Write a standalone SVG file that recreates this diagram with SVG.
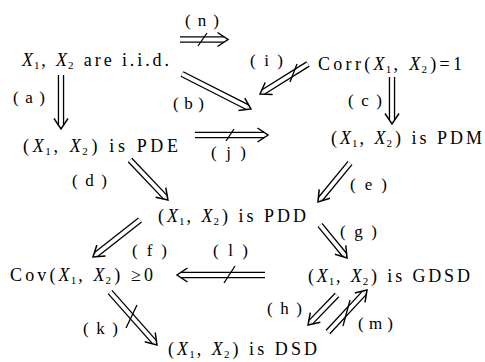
<svg xmlns="http://www.w3.org/2000/svg" width="485" height="362" viewBox="0 0 485 362">
<style>
.t{font-family:"Liberation Serif","Times New Roman",serif;font-size:18px;fill:#000}
.l{font-family:"Liberation Serif","Times New Roman",serif;font-size:17px;fill:#000}
.i{font-style:italic}
.s{font-size:11px}
.o{stroke:#000;stroke-width:6.4;fill:none}
.w{stroke:#fff;stroke-width:3.8;fill:none;marker-end:url(#head)}
.x{stroke:#000;stroke-width:1.3}
</style>
<defs>
<marker id="head" markerUnits="userSpaceOnUse" markerWidth="24" markerHeight="24" viewBox="-12 -12 24 24" refX="0" refY="0" orient="auto" overflow="visible">
<path d="M-6.5,-7 L4,0 L-6.5,7" fill="none" stroke="#000" stroke-width="1.5" stroke-linejoin="miter"/>
</marker>
</defs>
<rect width="485" height="362" fill="#fff"/>

<g id="iid"><text class="t" x="22" y="66" textLength="147" lengthAdjust="spacing"><tspan class="i">X</tspan><tspan class="s" dx="-2" dy="3">1</tspan><tspan dx="-1" dy="-3">, </tspan><tspan class="i">X</tspan><tspan class="s" dx="-2" dy="3">2</tspan><tspan dy="-3"> are i.i.d.</tspan></text></g>
<g id="corr"><text class="t" x="318" y="70" textLength="144" lengthAdjust="spacing">Corr(<tspan class="i">X</tspan><tspan class="s" dx="-2" dy="3">1</tspan><tspan dx="-1" dy="-3">, </tspan><tspan class="i">X</tspan><tspan class="s" dx="-2" dy="3">2</tspan><tspan dy="-3">)=1</tspan></text></g>
<g id="pde"><text class="t" x="23" y="152" textLength="155" lengthAdjust="spacing">(<tspan class="i">X</tspan><tspan class="s" dx="-2" dy="3">1</tspan><tspan dx="-1" dy="-3">, </tspan><tspan class="i">X</tspan><tspan class="s" dx="-2" dy="3">2</tspan><tspan dy="-3">) is PDE</tspan></text></g>
<g id="pdm"><text class="t" x="331" y="144" textLength="151" lengthAdjust="spacing">(<tspan class="i">X</tspan><tspan class="s" dx="-2" dy="3">1</tspan><tspan dx="-1" dy="-3">, </tspan><tspan class="i">X</tspan><tspan class="s" dx="-2" dy="3">2</tspan><tspan dy="-3">) is PDM</tspan></text></g>
<g id="pdd"><text class="t" x="158" y="222" textLength="148" lengthAdjust="spacing">(<tspan class="i">X</tspan><tspan class="s" dx="-2" dy="3">1</tspan><tspan dx="-1" dy="-3">, </tspan><tspan class="i">X</tspan><tspan class="s" dx="-2" dy="3">2</tspan><tspan dy="-3">) is PDD</tspan></text></g>
<g id="cov"><text class="t" x="10" y="281" textLength="143" lengthAdjust="spacing">Cov(<tspan class="i">X</tspan><tspan class="s" dx="-2" dy="3">1</tspan><tspan dx="-1" dy="-3">, </tspan><tspan class="i">X</tspan><tspan class="s" dx="-2" dy="3">2</tspan><tspan dy="-3">) ≥0</tspan></text></g>
<g id="gdsd"><text class="t" x="308" y="282" textLength="162" lengthAdjust="spacing">(<tspan class="i">X</tspan><tspan class="s" dx="-2" dy="3">1</tspan><tspan dx="-1" dy="-3">, </tspan><tspan class="i">X</tspan><tspan class="s" dx="-2" dy="3">2</tspan><tspan dy="-3">) is GDSD</tspan></text></g>
<g id="dsd"><text class="t" x="168" y="355" textLength="149" lengthAdjust="spacing">(<tspan class="i">X</tspan><tspan class="s" dx="-2" dy="3">1</tspan><tspan dx="-1" dy="-3">, </tspan><tspan class="i">X</tspan><tspan class="s" dx="-2" dy="3">2</tspan><tspan dy="-3">) is DSD</tspan></text></g>

<g id="connectors">
<g id="arrow-n"><path class="o" d="M180,39.5 L224,39.5"/><path class="w" d="M180,39.5 L224,39.5"/><line class="x" x1="198" y1="46" x2="207" y2="33"/><text class="l" x="185" y="26" textLength="34" lengthAdjust="spacing">(n)</text></g>
<g id="arrow-a"><path class="o" d="M61,75 L61,125"/><path class="w" d="M61,75 L61,125"/><text class="l" x="13" y="103" textLength="32" lengthAdjust="spacing">(a)</text></g>
<g id="arrow-b"><path class="o" d="M182,74 L247.4,107.2"/><path class="w" d="M182,74 L247.4,107.2"/><text class="l" x="173" y="109" textLength="31" lengthAdjust="spacing">(b)</text></g>
<g id="arrow-i"><path class="o" d="M308,64 L263.4,91.9"/><path class="w" d="M308,64 L263.4,91.9"/><line class="x" x1="290" y1="82" x2="297" y2="64"/><text class="l" x="250" y="66" textLength="33" lengthAdjust="spacing">(i)</text></g>
<g id="arrow-c"><path class="o" d="M392,77 L392,120"/><path class="w" d="M392,77 L392,120"/><text class="l" x="348" y="106" textLength="34" lengthAdjust="spacing">(c)</text></g>
<g id="arrow-j"><path class="o" d="M195,135 L264,135"/><path class="w" d="M195,135 L264,135"/><line class="x" x1="226" y1="141" x2="234" y2="129"/><text class="l" x="211" y="158" textLength="35" lengthAdjust="spacing">(j)</text></g>
<g id="arrow-d"><path class="o" d="M130,160 L165.2,197.1"/><path class="w" d="M130,160 L165.2,197.1"/><text class="l" x="72" y="186" textLength="35" lengthAdjust="spacing">(d)</text></g>
<g id="arrow-e"><path class="o" d="M350,163 L320.5,198.9"/><path class="w" d="M350,163 L320.5,198.9"/><text class="l" x="350" y="190" textLength="37" lengthAdjust="spacing">(e)</text></g>
<g id="arrow-f"><path class="o" d="M140,220 L96.1,254.5"/><path class="w" d="M140,220 L96.1,254.5"/><text class="l" x="132" y="256" textLength="35" lengthAdjust="spacing">(f)</text></g>
<g id="arrow-g"><path class="o" d="M320,225 L344.5,254.9"/><path class="w" d="M320,225 L344.5,254.9"/><text class="l" x="340" y="237" textLength="37" lengthAdjust="spacing">(g)</text></g>
<g id="arrow-l"><path class="o" d="M265,275 L181,275"/><path class="w" d="M265,275 L181,275"/><line class="x" x1="224" y1="283" x2="235" y2="266"/><text class="l" x="213" y="256" textLength="35" lengthAdjust="spacing">(l)</text></g>
<g id="arrow-k"><path class="o" d="M110,292 L154.3,342"/><path class="w" d="M110,292 L154.3,342"/><line class="x" x1="126" y1="328" x2="137" y2="305"/><text class="l" x="83" y="334" textLength="35" lengthAdjust="spacing">(k)</text></g>
<g id="arrow-h"><path class="o" d="M337,295 L310.8,322.1"/><path class="w" d="M337,295 L310.8,322.1"/><text class="l" x="267" y="314" textLength="35" lengthAdjust="spacing">(h)</text></g>
<g id="arrow-m"><path class="o" d="M328,332 L364.3,292.9"/><path class="w" d="M328,332 L364.3,292.9"/><line class="x" x1="343" y1="326" x2="350" y2="300"/><text class="l" x="358" y="329" textLength="35" lengthAdjust="spacing">(m)</text></g>
</g>
</svg>
